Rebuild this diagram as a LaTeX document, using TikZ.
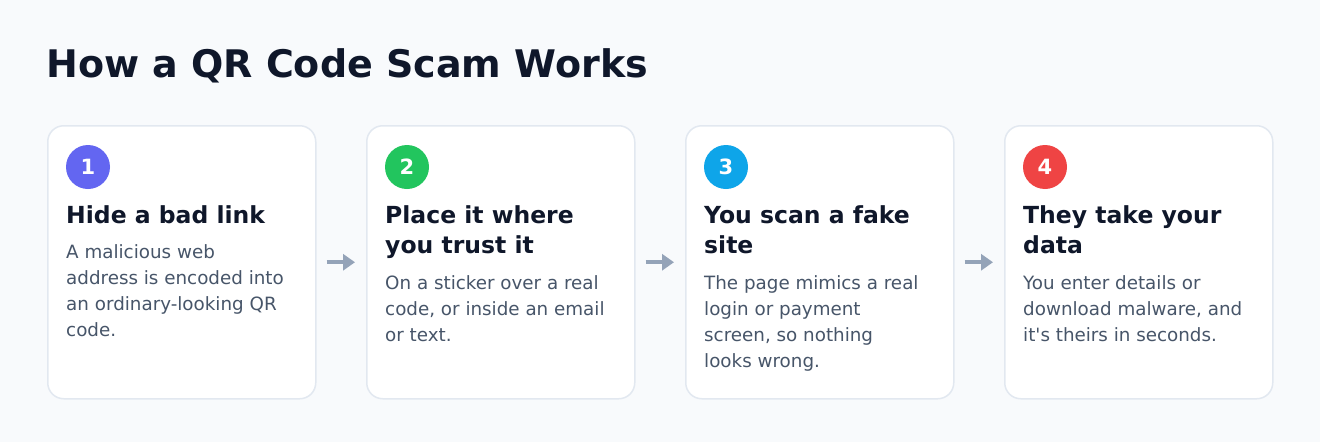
\documentclass[tikz,border=0pt]{standalone}
\usepackage{fontspec}
\setmainfont{DejaVu Sans}
\usepackage{textcomp}
\usetikzlibrary{positioning,arrows.meta}
\definecolor{pagebg}{HTML}{F8FAFC}
\definecolor{cardline}{HTML}{E2E8F0}
\definecolor{ink}{HTML}{0F172A}
\definecolor{bodyink}{HTML}{475569}
\definecolor{arrowgray}{HTML}{94A3B8}
\definecolor{stepA}{HTML}{6366F1}
\definecolor{stepB}{HTML}{22C55E}
\definecolor{stepC}{HTML}{0EA5E9}
\definecolor{stepD}{HTML}{EF4444}
\tikzset{>=Triangle}

\begin{document}
\begin{tikzpicture}[x=1pt, y=-1pt,
  card/.style = {draw=cardline, line width=1.5pt, fill=white, rounded corners=16pt, minimum width=268pt, minimum height=273pt, anchor=north west},
  badge/.style = {circle, minimum size=44pt, inner sep=0pt, text=white, font=\fontsize{21}{21}\selectfont\bfseries},
  heading/.style = {anchor=north west, inner sep=0pt, align=left, text=ink, font=\fontsize{23.5}{30}\selectfont\bfseries},
  body/.style = {anchor=north west, inner sep=0pt, align=left, text=bodyink, font=\fontsize{18.3}{26}\selectfont},
  flow/.style = {arrowgray, line width=4pt, shorten <=10pt, shorten >=11pt, arrows={-Triangle[length=12pt, width=16pt]}}]
				% page
				\fill[pagebg] (0,0) rectangle (1320,442);
				\node[anchor=base west, inner sep=0pt, text=ink, font=\fontsize{38}{40}\selectfont\bfseries] (title) at (46,77) {How a QR Code Scam Works};

				% cards
				\node[card] (c1) at (47,125) {};
				\node[card] (c2) at (366,125) {};
				\node[card] (c3) at (685,125) {};
				\node[card] (c4) at (1004,125) {};

				\node[badge, fill=stepA] (b1) at (88,167) {1};
				\node[badge, fill=stepB] (b2) at (407,167) {2};
				\node[badge, fill=stepC] (b3) at (726,167) {3};
				\node[badge, fill=stepD] (b4) at (1045,167) {4};

				\node[heading] (h1) at (66,205) {Hide a bad link};
				\node[heading] (h2) at (385,205) {Place it where\\you trust it};
				\node[heading] (h3) at (704,205) {You scan a fake\\site};
				\node[heading] (h4) at (1023,205) {They take your\\data};

				\node[body] (t1) at (66,244) {A malicious web\\address is encoded into\\an ordinary-looking QR\\code.};
				\node[body] (t2) at (385,275) {On a sticker over a real\\code, or inside an email\\or text.};
				\node[body] (t3) at (704,275) {The page mimics a real\\login or payment\\screen, so nothing\\looks wrong.};
				\node[body] (t4) at (1023,275) {You enter details or\\download malware, and\\it\textquotesingle s theirs in seconds.};

				% connections
				\draw[flow] (c1.east) -- (c2.west);
				\draw[flow] (c2.east) -- (c3.west);
				\draw[flow] (c3.east) -- (c4.west);
\end{tikzpicture}
\end{document}
